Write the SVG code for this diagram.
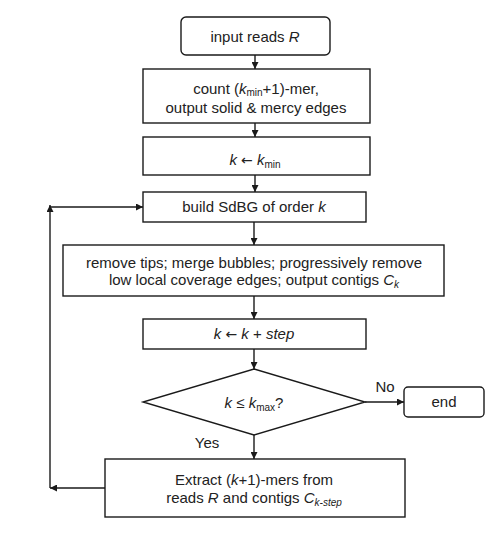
<svg xmlns="http://www.w3.org/2000/svg" width="501" height="539" viewBox="0 0 501 539">
<defs>
<marker id="ah" viewBox="0 0 10 10" refX="10" refY="5" markerWidth="8" markerHeight="7" markerUnits="userSpaceOnUse" orient="auto"><path d="M0,0 L10,5 L0,10 z" fill="#1a1a1a"/></marker>
</defs>
<style>
.b{fill:#fff;stroke:#1a1a1a;stroke-width:1.4}
.t{font-family:"Liberation Sans",Arial,sans-serif;font-size:15px;fill:#222;text-anchor:middle}
.s{font-size:10px}
.a{font-family:"DejaVu Sans",sans-serif;font-size:14px}
.c{fill:none;stroke:#1a1a1a;stroke-width:1.4}
</style>
<rect width="501" height="539" fill="#fff"/>
<g id="n_input"><rect class="b" x="181" y="17" width="149" height="38" rx="5"/><text class="t" x="255" y="42">input reads <tspan font-style="italic">R</tspan></text></g>
<g id="n_count"><rect class="b" x="143" y="69" width="227" height="54"/><text class="t" x="256" y="94">count (<tspan font-style="italic">k</tspan><tspan class="s" dy="2">min</tspan><tspan dy="-2">+1)-mer,</tspan></text><text class="t" x="256" y="113">output solid &amp; mercy edges</text></g>
<g id="n_kmin"><rect class="b" x="143" y="137" width="227" height="38"/><text class="t" x="255" y="165"><tspan font-style="italic">k</tspan> <tspan class="a">←</tspan> <tspan font-style="italic">k</tspan><tspan class="s" dy="3">min</tspan></text></g>
<g id="n_build"><rect class="b" x="143" y="192" width="223" height="30"/><text class="t" x="254" y="212">build SdBG of order <tspan font-style="italic">k</tspan></text></g>
<g id="n_remove"><rect class="b" x="63" y="245" width="381" height="51"/><text class="t" x="254" y="268">remove tips; merge bubbles; progressively remove</text><text class="t" x="254" y="285">low local coverage edges; output contigs <tspan font-style="italic">C</tspan><tspan class="s" font-style="italic" dy="3">k</tspan></text></g>
<g id="n_step"><rect class="b" x="143" y="319" width="223" height="30"/><text class="t" x="254" y="339"><tspan font-style="italic">k</tspan> <tspan class="a">←</tspan> <tspan font-style="italic">k</tspan> + <tspan font-style="italic">step</tspan></text></g>
<g id="n_cond"><polygon class="b" points="254,369 365,402 254,435 143,402"/><text class="t" x="254" y="408"><tspan font-style="italic">k</tspan> ≤ <tspan font-style="italic">k</tspan><tspan class="s" dy="3">max</tspan><tspan dy="-3">?</tspan></text></g>
<g id="n_end"><rect class="b" x="404" y="387" width="80" height="30" rx="4"/><text class="t" x="444" y="407">end</text></g>
<g id="n_extract"><rect class="b" x="105" y="459" width="300" height="58"/><text class="t" x="254" y="485">Extract (<tspan font-style="italic">k</tspan>+1)-mers from</text><text class="t" x="254" y="503">reads <tspan font-style="italic">R</tspan> and contigs <tspan font-style="italic">C</tspan><tspan class="s" font-style="italic" dy="3">k-step</tspan></text></g>
<g id="connectors">
<line class="c" x1="255" y1="55" x2="255" y2="69" marker-end="url(#ah)"/>
<line class="c" x1="255" y1="123" x2="255" y2="137" marker-end="url(#ah)"/>
<line class="c" x1="255" y1="175" x2="255" y2="192" marker-end="url(#ah)"/>
<line class="c" x1="254" y1="222" x2="254" y2="245" marker-end="url(#ah)"/>
<line class="c" x1="254" y1="296" x2="254" y2="319" marker-end="url(#ah)"/>
<line class="c" x1="254" y1="349" x2="254" y2="369" marker-end="url(#ah)"/>
<line class="c" x1="365" y1="402" x2="404" y2="402" marker-end="url(#ah)"/>
<line class="c" x1="254" y1="435" x2="254" y2="459" marker-end="url(#ah)"/>
<line class="c" x1="105" y1="488" x2="50" y2="488" marker-end="url(#ah)"/>
<line class="c" x1="50" y1="488" x2="50" y2="205" marker-end="url(#ah)"/>
<line class="c" x1="49.3" y1="207" x2="143" y2="207" marker-end="url(#ah)"/>
<text class="t" x="385" y="392">No</text>
<text class="t" x="207" y="448">Yes</text>
</g>
</svg>
